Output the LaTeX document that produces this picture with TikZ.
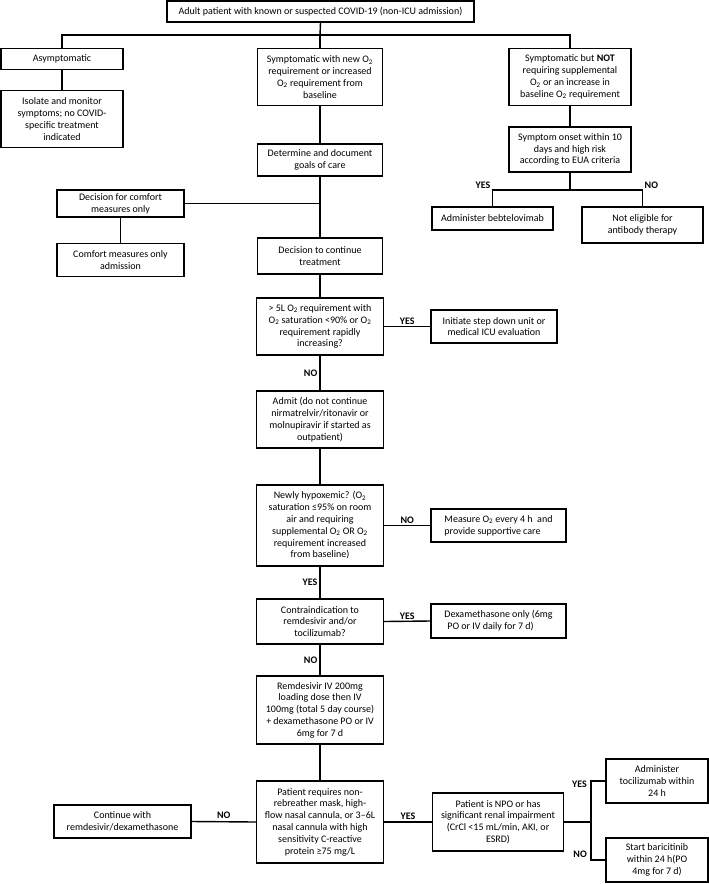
\documentclass[tikz,border=0pt]{standalone}
\usepackage{fontspec}
\setmainfont{Carlito}
\newcommand\oxy{O\textsubscript{2}}
\newcommand\fs{\fontsize{10}{11.8}\selectfont}
\tikzset{
  box/.style={draw, line width=1.4pt, inner sep=1pt, align=center, font=\fs},
  lab/.style={font=\fs\bfseries, inner sep=1pt},
  conn/.style={line width=1.4pt}
}
\begin{document}
\begin{tikzpicture}[x=1pt,y=-1pt]
\useasboundingbox (0,0) rectangle (709,884);
\fill[white] (0,0) rectangle (709,884);

\node[box, minimum width=307, minimum height=21] (top) at (320.5,11.5) {Adult patient with known or suspected COVID-19 (non-ICU admission)};
\node[box, minimum width=122, minimum height=21] (asym) at (62,59) {Asymptomatic};
\node[box, minimum width=122, minimum height=57] (isolate) at (62,119) {Isolate and monitor\\symptoms; no COVID-\\specific treatment\\indicated};
\node[box, minimum width=125, minimum height=57] (symnew) at (320,77) {Symptomatic with new \oxy\\requirement or increased\\\oxy{} requirement from\\baseline};
\node[box, minimum width=122, minimum height=57] (symnot) at (570,77) {Symptomatic but \textbf{NOT}\\requiring supplemental\\\oxy{} or an increase in\\baseline \oxy{} requirement};
\node[box, minimum width=122, minimum height=45] (onset) at (570,149.5) {Symptom onset within 10\\days and high risk\\according to EUA criteria};
\node[box, minimum width=121, minimum height=23] (admin) at (492.5,218.5) {Administer bebtelovimab};
\node[box, minimum width=121, minimum height=36] (noteleg) at (642.5,225) {Not eligible for\\antibody therapy};
\node[box, minimum width=125, minimum height=32] (determine) at (320,160) {Determine and document\\goals of care};
\node[box, minimum width=127, minimum height=27] (comfortdec) at (120.5,203.5) {Decision for comfort\\measures only};
\node[box, minimum width=127, minimum height=33] (comfortadm) at (120.5,260) {Comfort measures only\\admission};
\node[box, minimum width=125, minimum height=36] (continue) at (320,256) {Decision to continue\\treatment};
\node[box, minimum width=127, minimum height=57] (fivel) at (320,326.5) {> 5L \oxy{} requirement with\\\oxy{} saturation <90\% or \oxy\\requirement rapidly\\increasing?};
\node[box, minimum width=126, minimum height=33] (initiate) at (494,326.5) {Initiate step down unit or\\medical ICU evaluation};
\node[box, minimum width=127, minimum height=57] (admit) at (320,419.5) {Admit (do not continue\\nirmatrelvir/ritonavir or\\molnupiravir if started as\\outpatient)};
\node[box, minimum width=127, minimum height=81] (newly) at (320,525.5) {Newly hypoxemic? (\oxy\\saturation ≤95\% on room\\air and requiring\\supplemental \oxy{} OR \oxy\\requirement increased\\from baseline)};
\node[box, minimum width=135, minimum height=33, align=left] (measure) at (498.5,525.5) {Measure \oxy{} every 4 h\ \ and\\provide supportive care};
\node[box, minimum width=127, minimum height=45] (contra) at (320,621.5) {Contraindication to\\remdesivir and/or\\tocilizumab?};
\node[box, minimum width=135, minimum height=34, align=left] (dexa) at (498.5,621) {Dexamethasone only (6mg\\\hspace{3pt}PO or IV daily for 7 d)};
\node[box, minimum width=127, minimum height=68] (remdes) at (320,710) {Remdesivir IV 200mg\\loading dose then IV\\100mg (total 5 day course)\\+ dexamethasone PO or IV\\6mg for 7 d};
\node[box, minimum width=127, minimum height=82] (patient) at (320,822) {Patient requires non-\\rebreather mask, high-\\flow nasal cannula, or 3–6L\\nasal cannula with high\\sensitivity C-reactive\\protein ≥75 mg/L};
\node[box, minimum width=137, minimum height=33] (contwith) at (122.5,821.5) {Continue with\\remdesivir/dexamethasone};
\node[box, minimum width=131, minimum height=58] (npo) at (498,822) {Patient is NPO or has\\significant renal impairment\\(CrCl <15 mL/min, AKI, or\\ESRD)};
\node[box, minimum width=102, minimum height=44] (toci) at (657,781) {Administer\\tocilizumab within\\24 h\hspace{17pt}};
\node[box, minimum width=102, minimum height=44] (bari) at (657,860) {Start baricitinib\\within 24 h(PO\hspace{12pt}\\4mg for 7 d)\hspace{6pt}};

% top branching
\coordinate (br) at (320,35);
\draw[conn] (top.south) -- (br);
\draw[conn] (asym.north) -- (asym.north |- br) -- (symnot.north |- br) -- (symnot.north);
\draw[conn] (br) -- (symnew.north);
\draw[conn] (asym.south) -- (isolate.north);
\draw[conn] (symnot.south) -- (onset.north);

% onset branching
\coordinate (ob) at (570,190);
\draw[conn] (onset.south) -- (ob);
\draw[conn] (admin.north) -- (admin.north |- ob) -- (noteleg.north |- ob) -- (noteleg.north);
\node[lab, anchor=south east] (lyes1) at ([xshift=-1pt]admin.north |- ob) {YES};
\node[lab, anchor=south west] (lno1) at ([xshift=1pt]noteleg.north |- ob) {NO};

% middle column
\draw[conn] (symnew.south) -- (determine.north);
\draw[conn] (determine.south) -- (continue.north);
\draw[conn] (comfortdec.east) -- (comfortdec.east -| determine.south);
\draw[conn] (comfortdec.south) -- (comfortadm.north);
\draw[conn] (continue.south) -- (fivel.north);

\draw[conn] (fivel.east) -- node[lab, above] (lyes2) {YES} (initiate.west);
\draw[conn] (fivel.south) -- node[lab, left, xshift=-1pt] (lno2) {NO} (admit.north);
\draw[conn] (admit.south) -- (newly.north);
\draw[conn] (newly.east) -- node[lab, above] (lno3) {NO} (measure.west);
\draw[conn] (newly.south) -- node[lab, left, xshift=-1pt] (lyes3) {YES} (contra.north);
\draw[conn] (contra.east) -- node[lab, above] (lyes4) {YES} (dexa.west);
\draw[conn] (contra.south) -- node[lab, left, xshift=-1pt] (lno4) {NO} (remdes.north);
\draw[conn] (remdes.south) -- (patient.north);
\draw[conn] (patient.west) -- node[lab, above, yshift=1pt] (lno5) {NO} (contwith.east);
\draw[conn] (patient.east) -- node[lab, above, yshift=1pt] (lyes5) {YES} (npo.west);

% npo branching
\coordinate (nb) at (591,822);
\draw[conn] (npo.east) -- (nb);
\draw[conn] (toci.west) -- (toci.west -| nb) -- (bari.west -| nb) -- (bari.west);
\node[lab, anchor=north east] (lyes6) at ([xshift=-3pt,yshift=1pt]toci.west -| nb) {YES};
\node[lab, anchor=south east] (lno6) at ([xshift=-3pt,yshift=1pt]bari.west -| nb) {NO};
\end{tikzpicture}
\end{document}
